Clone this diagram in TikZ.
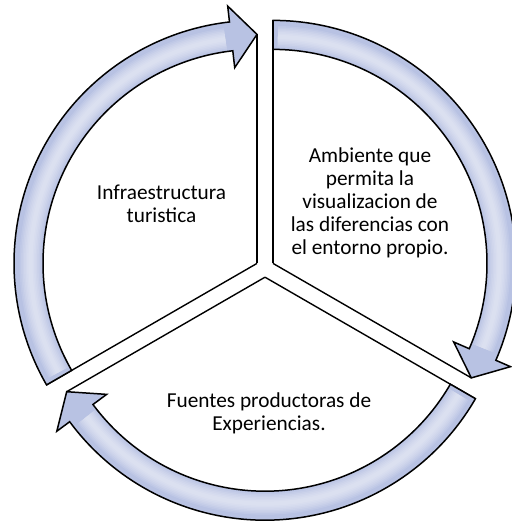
\documentclass[tikz,border=0pt]{standalone}
\usepackage{fontspec}
\setmainfont{Carlito}
\definecolor{bandfill}{RGB}{184,194,227}
\definecolor{bandlight}{RGB}{248,249,253}
\newcommand\cyclearrow[2]{%
  \pgfmathsetmacro\aS{#2}%
  \pgfmathsetmacro\aE{#2-120}%
  \pgfmathsetmacro\aH{#2-113.5}%
  \pgfmathsetmacro\aSs{#2-1.2}%
  \pgfmathsetmacro\aHs{#2-112}%
  \begin{scope}[shift={(#1)}]
    \draw[wedgeline] (0,0) -- (\aS:243);
    \draw[wedgeline] (0,0) -- (\aE:229);
    \draw[bandarrow] (\aS:214) arc[start angle=\aS, end angle=\aH, radius=214]
      -- (\aH:197) -- (\aE:229) -- (\aH:259) -- (\aH:243)
      arc[start angle=\aH, end angle=\aS, radius=243] -- cycle;
    \foreach \w in {22,19,16,13,10,7,4}{
      \draw[bandlight, opacity=0.12, line width=\w pt] (\aSs:226.5) arc[start angle=\aSs, end angle=\aHs, radius=226.5];
    }
  \end{scope}}
\begin{document}
\begin{tikzpicture}[x=1pt,y=1pt,
  wedgeline/.style={line width=1.4pt, draw=black},
  bandarrow/.style={fill=bandfill, draw=black, line width=1.5pt, line join=miter},
  lbl/.style={font=\fontsize{21.3}{22.8}\selectfont, align=center, anchor=base, inner sep=0pt}]
\useasboundingbox (0,0) rectangle (511,527);
\coordinate (C1) at (257,263.6);
\coordinate (C2) at (273,263.6);
\coordinate (C3) at (265,249.8);
\cyclearrow{C1}{210}
\cyclearrow{C2}{90}
\cyclearrow{C3}{330}
\node[lbl] (t1) at (161.5,304.7) {Infraestructura\\turistica};
\node[lbl] (t2) at (370,272.8) {Ambiente que\\permita la\\visualizacion de\\las diferencias con\\el entorno propio.};
\node[lbl] (t3) at (269,96.2) {Fuentes productoras de\\Experiencias.};
\end{tikzpicture}
\end{document}
